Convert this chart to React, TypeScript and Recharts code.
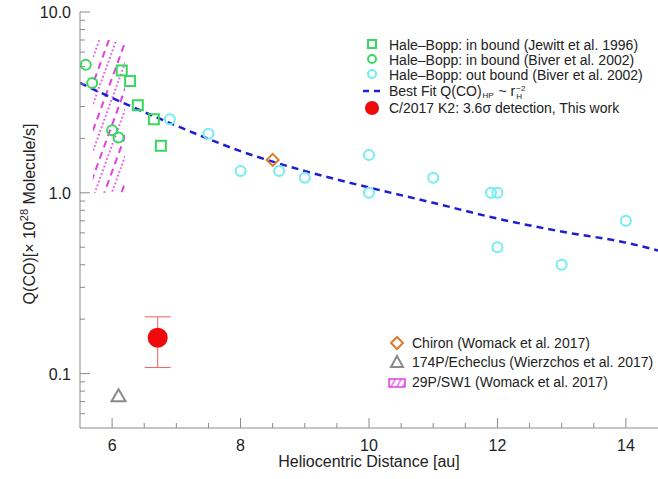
import { ComposedChart, ErrorBar, Line, ReferenceArea, Scatter, XAxis, YAxis } from 'recharts'

const FONT = '"Liberation Sans", Arial, Helvetica, sans-serif'
const AXIS = '#8a8a8a'
const TEXT = '#222'

const GREEN = '#35d860'
const CYAN = '#72eef2'
const BLUE = '#1e1ed2'
const RED = '#ee0a0a'
const ORANGE = '#e07a2c'
const GRAY = '#8a8a8a'
const MAGENTA = '#e040e0'

// Hale-Bopp in bound, Jewitt et al. 1996
const jewittR = [6.15, 6.28, 6.4, 6.65, 6.76]
const jewittQ = [4.75, 4.15, 3.05, 2.55, 1.82]
// Hale-Bopp in bound, Biver et al. 2002
const biverInR = [5.59, 5.69, 6.0, 6.1]
const biverInQ = [5.1, 4.05, 2.22, 2.02]
// Hale-Bopp out bound, Biver et al. 2002
const biverOutR = [6.9, 7.5, 8.0, 8.6, 9.0, 10.0, 10.0, 11.0, 11.9, 12.0, 12.0, 13.0, 14.0]
const biverOutQ = [2.55, 2.12, 1.32, 1.32, 1.21, 1.62, 1.0, 1.21, 1.0, 1.0, 0.5, 0.4, 0.7]
// best fit curve
const fitR = [5.5, 6, 7, 8, 9, 10, 11, 12, 13, 14, 14.5]
const fitQ = [4.05, 3.35, 2.35, 1.7, 1.32, 1.07, 0.88, 0.72, 0.61, 0.53, 0.48]
// C/2017 K2
const k2R = [6.71]
const k2Q = [0.158]
const k2Low = [0.05]
const k2High = [0.048]
// other comets
const chironR = [8.5]
const chironQ = [1.52]
const echeclusR = [6.1]
const echeclusQ = [0.075]
const sw1R = [5.7, 6.2]
const sw1Q = [1.0, 7.0]

const xMajor = [6, 8, 10, 12, 14]
const xMinor = [6.5, 7, 7.5, 8.5, 9, 9.5, 10.5, 11, 11.5, 12.5, 13, 13.5]
const yMajor = [0.1, 1, 10]
const yLabels = ['0.1', '1.0', '10.0']
const yMinor = [0.06, 0.07, 0.08, 0.09, 0.2, 0.3, 0.4, 0.5, 0.6, 0.7, 0.8, 0.9, 2, 3, 4, 5, 6, 7, 8, 9]

const topLegend = [
    'Hale\u2013Bopp: in bound (Jewitt et al. 1996)',
    'Hale\u2013Bopp: in bound (Biver et al. 2002)',
    'Hale\u2013Bopp: out bound (Biver et al. 2002)',
    'Best Fit',
    'C/2017 K2: 3.6\u03c3 detection, This work',
]
const bottomLegend = ['Chiron (Womack et al. 2017)', '174P/Echeclus (Wierzchos et al. 2017)', '29P/SW1 (Womack et al. 2017)']

const zip = (r: number[], q: number[]) => r.map((v, i) => ({ r: v, q: q[i] }))

const xTicks = [...xMajor, ...xMinor].sort((a, b) => a - b)
const yTicks = [...yMajor, ...yMinor].sort((a, b) => a - b)

function BottomTick({ x, y, payload }: any) {
    const major = xMajor.includes(payload.value)
    return (
        <g>
            <line x1={x} x2={x} y1={y} y2={y - (major ? 10 : 5)} stroke={AXIS} />
            {major && (
                <text x={x} y={y + 23} textAnchor="middle" fontSize={16} fill={TEXT} fontFamily={FONT}>
                    {payload.value}
                </text>
            )}
        </g>
    )
}

function TopTick({ x, y, payload }: any) {
    const major = xMajor.includes(payload.value)
    return <line x1={x} x2={x} y1={y} y2={y + (major ? 10 : 5)} stroke={AXIS} />
}

function LeftTick({ x, y, payload }: any) {
    const idx = yMajor.indexOf(payload.value)
    return (
        <g>
            <line x1={x} x2={x + (idx >= 0 ? 10 : 5)} y1={y} y2={y} stroke={AXIS} />
            {idx >= 0 && (
                <text x={x - 9} y={y + 6} textAnchor="end" fontSize={16} fill={TEXT} fontFamily={FONT}>
                    {yLabels[idx]}
                </text>
            )}
        </g>
    )
}

function RightTick({ x, y, payload }: any) {
    const major = yMajor.includes(payload.value)
    return <line x1={x} x2={x - (major ? 10 : 5)} y1={y} y2={y} stroke={AXIS} />
}

const square = (color: string) => (p: any) => (
    <rect x={p.cx - 5} y={p.cy - 5} width={10} height={10} fill="none" stroke={color} strokeWidth={2} />
)
const ring = (color: string) => (p: any) => <circle cx={p.cx} cy={p.cy} r={5} fill="none" stroke={color} strokeWidth={2} />
const diamond = (p: any) => (
    <path d={`M${p.cx},${p.cy - 6}L${p.cx + 6},${p.cy}L${p.cx},${p.cy + 6}L${p.cx - 6},${p.cy}Z`} fill="none" stroke={ORANGE} strokeWidth={2} />
)
const triangle = (p: any) => (
    <path d={`M${p.cx},${p.cy - 7}L${p.cx + 7},${p.cy + 5}L${p.cx - 7},${p.cy + 5}Z`} fill="none" stroke={GRAY} strokeWidth={2} />
)
const bigDot = (p: any) => <circle cx={p.cx} cy={p.cy} r={10} fill={RED} />

function YLabel({ viewBox }: any) {
    const cx = viewBox.x + 15
    const cy = viewBox.y + viewBox.height / 2 - 6
    return (
        <text transform={`translate(${cx},${cy}) rotate(-90)`} textAnchor="middle" fontSize={16} fill={TEXT} fontFamily={FONT}>
            Q(CO)[× 10
            <tspan dy={-7} fontSize={11}>28</tspan>
            <tspan dy={7}> Molecule/s]</tspan>
        </text>
    )
}

function HatchIcon() {
    return (
        <svg width={18} height={10} style={{ position: 'absolute', left: -24, top: 4 }}>
            <rect x={1} y={1} width={16} height={8} fill="url(#hatchSmall)" stroke={MAGENTA} strokeWidth={1.5} />
            <defs>
                <pattern id="hatchSmall" patternUnits="userSpaceOnUse" width={5} height={4} patternTransform="rotate(30)">
                    <line x1={2} y1={0} x2={2} y2={4} stroke={MAGENTA} strokeWidth={1.2} />
                </pattern>
            </defs>
        </svg>
    )
}

function Legends() {
    const row = (top: number, left: number): React.CSSProperties => ({
        position: 'absolute',
        top,
        left,
        fontSize: 14,
        lineHeight: '16px',
        height: 16,
        color: TEXT,
        whiteSpace: 'nowrap',
        fontFamily: FONT,
    })
    const small: React.CSSProperties = { position: 'absolute', left: 1, fontSize: 8, lineHeight: '8px' }
    const icon = (children: React.ReactNode) => (
        <svg width={20} height={16} style={{ position: 'absolute', left: -27, top: 0 }}>
            {children}
        </svg>
    )
    return (
        <>
            <div style={row(37, 389)}>
                {icon(<rect x={6} y={3} width={8} height={8} fill="none" stroke={GREEN} strokeWidth={2} />)}
                {topLegend[0]}
            </div>
            <div style={row(52, 389)}>
                {icon(<circle cx={10} cy={7} r={4} fill="none" stroke={GREEN} strokeWidth={2} />)}
                {topLegend[1]}
            </div>
            <div style={row(67, 389)}>
                {icon(<circle cx={10} cy={7} r={4} fill="none" stroke={CYAN} strokeWidth={2} />)}
                {topLegend[2]}
            </div>
            <div style={row(83, 389)}>
                {icon(<line x1={1} x2={19} y1={8} y2={8} stroke={BLUE} strokeWidth={2.5} strokeDasharray="6 5" />)}
                {topLegend[3]} Q(CO)
                <span style={{ display: 'inline-block', position: 'relative', width: 13, height: 10 }}>
                    <span style={{ ...small, top: 6 }}>HP</span>
                </span>
                {' ~ r'}
                <span style={{ display: 'inline-block', position: 'relative', width: 12, height: 10 }}>
                    <span style={{ ...small, top: -1 }}>−2</span>
                    <span style={{ ...small, top: 7 }}>H</span>
                </span>
            </div>
            <div style={row(100, 389)}>
                {icon(<circle cx={10} cy={8} r={7} fill={RED} />)}
                {topLegend[4]}
            </div>
            <div style={row(335, 412)}>
                {icon(<path d="M12,2L18,8L12,14L6,8Z" fill="none" stroke={ORANGE} strokeWidth={2} />)}
                {bottomLegend[0]}
            </div>
            <div style={row(354, 412)}>
                {icon(<path d="M12,2L18,13L6,13Z" fill="none" stroke={GRAY} strokeWidth={2} />)}
                {bottomLegend[1]}
            </div>
            <div style={row(374, 412)}>
                <HatchIcon />
                {bottomLegend[2]}
            </div>
        </>
    )
}

export default function App() {
    return (
        <div style={{ position: 'absolute', left: 0, top: 0, width: 658, height: 479, background: '#fff', fontFamily: FONT }}>
            <ComposedChart width={658} height={479} margin={{ top: 12, right: 0, bottom: 0, left: 20 }}>
                <defs>
                    <pattern id="hatch" patternUnits="userSpaceOnUse" width={16} height={12} patternTransform="rotate(20)">
                        <line x1={4} y1={0} x2={4} y2={12} stroke={MAGENTA} strokeWidth={2} strokeDasharray="7 5" />
                        <line x1={11} y1={0} x2={11} y2={12} stroke={MAGENTA} strokeWidth={2} strokeDasharray="1.5 2.5" />
                    </pattern>
                </defs>
                <XAxis
                    xAxisId={0}
                    type="number"
                    dataKey="r"
                    domain={[5.5, 14.5]}
                    allowDataOverflow
                    ticks={xTicks}
                    interval={0}
                    tick={<BottomTick />}
                    tickSize={0}
                    tickMargin={0}
                    height={51}
                    stroke={AXIS}
                    label={{ value: 'Heliocentric Distance [au]', position: 'insideBottom', offset: 12, fontSize: 16, fill: TEXT, fontFamily: FONT }}
                />
                <XAxis
                    xAxisId="t"
                    orientation="top"
                    type="number"
                    dataKey="r"
                    domain={[5.5, 14.5]}
                    allowDataOverflow
                    ticks={xTicks}
                    interval={0}
                    tick={<TopTick />}
                    tickSize={0}
                    tickMargin={0}
                    height={0}
                    stroke={AXIS}
                />
                <YAxis
                    yAxisId={0}
                    type="number"
                    scale="log"
                    domain={[0.05, 10]}
                    allowDataOverflow
                    ticks={yTicks}
                    interval={0}
                    tick={<LeftTick />}
                    tickSize={0}
                    tickMargin={0}
                    width={60}
                    stroke={AXIS}
                    label={<YLabel />}
                />
                <YAxis
                    yAxisId="r"
                    orientation="right"
                    type="number"
                    scale="log"
                    domain={[0.05, 10]}
                    allowDataOverflow
                    ticks={yTicks}
                    interval={0}
                    tick={<RightTick />}
                    tickSize={0}
                    tickMargin={0}
                    width={0}
                    stroke={AXIS}
                />
                <ReferenceArea x1={sw1R[0]} x2={sw1R[1]} y1={sw1Q[0]} y2={sw1Q[1]} fill="url(#hatch)" fillOpacity={1} stroke="none" ifOverflow="hidden" />
                <Line data={zip(fitR, fitQ)} dataKey="q" type="monotone" stroke={BLUE} strokeWidth={2.5} strokeDasharray="7 5" dot={false} isAnimationActive={false} />
                <Scatter data={zip(biverOutR, biverOutQ)} dataKey="q" shape={ring(CYAN)} isAnimationActive={false} />
                <Scatter data={zip(biverInR, biverInQ)} dataKey="q" shape={ring(GREEN)} isAnimationActive={false} />
                <Scatter data={zip(jewittR, jewittQ)} dataKey="q" shape={square(GREEN)} isAnimationActive={false} />
                <Scatter data={zip(chironR, chironQ)} dataKey="q" shape={diamond} isAnimationActive={false} />
                <Scatter data={zip(echeclusR, echeclusQ)} dataKey="q" shape={triangle} isAnimationActive={false} />
                <Scatter
                    data={k2R.map((r, i) => ({ r, q: k2Q[i], err: [k2Low[i], k2High[i]] }))}
                    dataKey="q"
                    shape={bigDot}
                    isAnimationActive={false}
                >
                    <ErrorBar dataKey="err" direction="y" width={13} stroke="#f06060" strokeWidth={1} isAnimationActive={false} />
                </Scatter>
            </ComposedChart>
            <Legends />
        </div>
    )
}
